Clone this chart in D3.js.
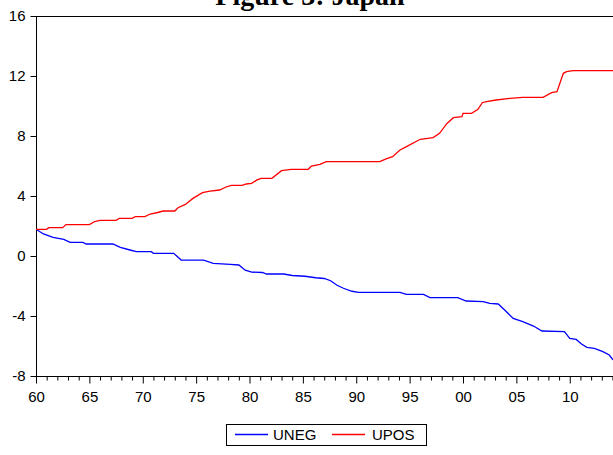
<!DOCTYPE html>
<html>
<head>
<meta charset="utf-8">
<script src="https://cdn.jsdelivr.net/npm/d3@7"></script>
<style>
  html, body { margin: 0; padding: 0; background: #fff; }
  svg { display: block; }
  text { font-family: Arial, "Liberation Sans", sans-serif; }
</style>
</head>
<body>
<script>
const title = "Figure 3: Japan";
const seriesNames = ["UNEG", "UPOS"];
const seriesColors = ["#0000ff", "#ff0000"];
const yTicks = [-8, -4, 0, 4, 8, 12, 16];
const xMajorTicks = [1960, 1965, 1970, 1975, 1980, 1985, 1990, 1995, 2000, 2005, 2010];

const uposYears = [1960.0,1961.0,1961.2,1962.5,1962.8,1965.0,1965.5,1966.0,1967.5,1967.8,1969.0,1969.3,1970.2,1970.7,1971.4,1971.9,1973.0,1973.3,1974.0,1974.7,1975.6,1976.3,1977.2,1977.8,1978.3,1979.3,1979.7,1980.2,1980.7,1981.1,1982.1,1983.0,1983.9,1985.5,1985.8,1986.6,1987.2,1992.2,1992.8,1993.4,1994.1,1994.7,1996.0,1997.2,1997.8,1998.5,1999.1,1999.9,2000.0,2000.8,2001.4,2001.8,2002.2,2003.1,2004.4,2005.6,2007.5,2008.3,2008.8,2009.4,2009.7,2010.3,2014.1];
const uposValues = [1.78,1.78,1.89,1.89,2.09,2.09,2.30,2.38,2.38,2.51,2.51,2.62,2.62,2.80,2.90,3.00,3.00,3.22,3.44,3.84,4.22,4.33,4.40,4.60,4.71,4.71,4.80,4.84,5.07,5.18,5.18,5.69,5.78,5.78,6.00,6.11,6.29,6.29,6.47,6.62,7.07,7.29,7.78,7.89,8.18,8.84,9.22,9.29,9.51,9.51,9.78,10.22,10.29,10.40,10.51,10.58,10.58,10.89,10.96,12.18,12.29,12.36,12.36];

const unegYears = [1960.0,1960.7,1961.6,1962.6,1963.2,1964.4,1964.7,1967.2,1967.9,1968.8,1969.4,1970.8,1971.0,1972.9,1973.6,1975.7,1976.6,1978.2,1979.0,1979.6,1980.2,1981.2,1981.6,1983.2,1984.0,1985.2,1986.2,1987.0,1987.6,1988.2,1988.8,1989.6,1990.2,1994.1,1994.7,1996.3,1996.9,1999.5,2000.3,2001.9,2002.5,2003.3,2003.9,2004.7,2005.6,2006.6,2007.4,2009.5,2010.0,2010.6,2011.1,2011.6,2012.3,2013.1,2013.7,2014.05];
const unegValues = [1.78,1.47,1.24,1.11,0.91,0.91,0.80,0.80,0.58,0.40,0.29,0.29,0.18,0.18,-0.27,-0.27,-0.49,-0.56,-0.60,-0.95,-1.07,-1.10,-1.20,-1.20,-1.30,-1.35,-1.45,-1.50,-1.65,-1.95,-2.15,-2.35,-2.42,-2.42,-2.56,-2.56,-2.78,-2.78,-3.00,-3.04,-3.16,-3.20,-3.60,-4.16,-4.38,-4.67,-5.00,-5.04,-5.49,-5.56,-5.87,-6.09,-6.16,-6.38,-6.60,-6.93];

(function () {
const W = 613, H = 455;
const mLeft = 36, mRight = 613, mTop = 16, mBottom = 376;

const svg = d3.select("body").append("svg").attr("width", W).attr("height", H);

const x = d3.scaleLinear().domain([1960, 2014.05]).range([mLeft, mRight]);
const y = d3.scaleLinear().domain([-8, 16]).range([mBottom, mTop]);

// title (cut off at top, as in the reference)
svg.append("text")
  .attr("x", 310).attr("y", 5)
  .attr("text-anchor", "middle")
  .style("font-family", "'Liberation Serif', 'Times New Roman', serif")
  .style("font-weight", "bold")
  .style("font-size", "28px")
  .text(title);

svg.append("clipPath").attr("id", "clip")
  .append("rect").attr("x", mLeft).attr("y", mTop).attr("width", mRight - mLeft).attr("height", mBottom - mTop);

// frame top line
svg.append("line").attr("x1", mLeft).attr("x2", mRight).attr("y1", mTop + 0.5).attr("y2", mTop + 0.5)
  .attr("stroke", "#000").attr("stroke-width", 1);

// Y axis
const yAxis = d3.axisLeft(y).tickValues(yTicks).tickSize(6).tickPadding(5).tickFormat(d => String(d));
const gy = svg.append("g").attr("transform", `translate(${mLeft + 0.5},0)`).call(yAxis);
gy.select(".domain").attr("stroke", "#000").attr("d", `M0,${mTop}V${mBottom}`);
gy.selectAll("text").style("font-size", "15px").style("font-family", "Arial, 'Liberation Sans', sans-serif").attr("fill", "#000");

// X axis minor ticks
const minorYears = d3.range(1960, 2015).filter(v => v % 5 !== 0);
const xMinor = d3.axisBottom(x).tickValues(minorYears).tickSize(4).tickFormat("");
const gxm = svg.append("g").attr("transform", `translate(0,${mBottom + 0.5})`).call(xMinor);
gxm.select(".domain").remove();

const xAxis = d3.axisBottom(x).tickValues(xMajorTicks).tickSize(7).tickPadding(8)
  .tickFormat(d => String(d % 100).padStart(2, "0"));
const gx = svg.append("g").attr("transform", `translate(0,${mBottom + 0.5})`).call(xAxis);
gx.select(".domain").attr("d", `M${mLeft},0H${mRight}`).attr("stroke", "#000");
gx.selectAll("text").style("font-size", "15px").style("font-family", "Arial, 'Liberation Sans', sans-serif").attr("fill", "#000");

// lines
const series = [
  { name: seriesNames[0], color: seriesColors[0], data: unegYears.map((yr, i) => [yr, unegValues[i]]) },
  { name: seriesNames[1], color: seriesColors[1], data: uposYears.map((yr, i) => [yr, uposValues[i]]) }
];
const line = d3.line().x(d => x(d[0])).y(d => y(d[1]));
const gl = svg.append("g").attr("clip-path", "url(#clip)");
series.forEach(s => {
  gl.append("path").datum(s.data).attr("d", line)
    .attr("fill", "none").attr("stroke", s.color).attr("stroke-width", 1.3);
});

// legend
const lg = svg.append("g");
lg.append("rect").attr("x", 226.5).attr("y", 424.5).attr("width", 200).attr("height", 21)
  .attr("fill", "#fff").attr("stroke", "#000").attr("stroke-width", 1);
const legendPos = [{ lx: 235, tx: 273 }, { lx: 332, tx: 372 }];
series.forEach((s, i) => {
  lg.append("line").attr("x1", legendPos[i].lx).attr("x2", legendPos[i].lx + 33)
    .attr("y1", 434.5).attr("y2", 434.5).attr("stroke", s.color).attr("stroke-width", 1.3);
  lg.append("text").attr("x", legendPos[i].tx).attr("y", 440)
    .style("font-size", "15px").text(s.name);
});
})();
</script>
</body>
</html>
